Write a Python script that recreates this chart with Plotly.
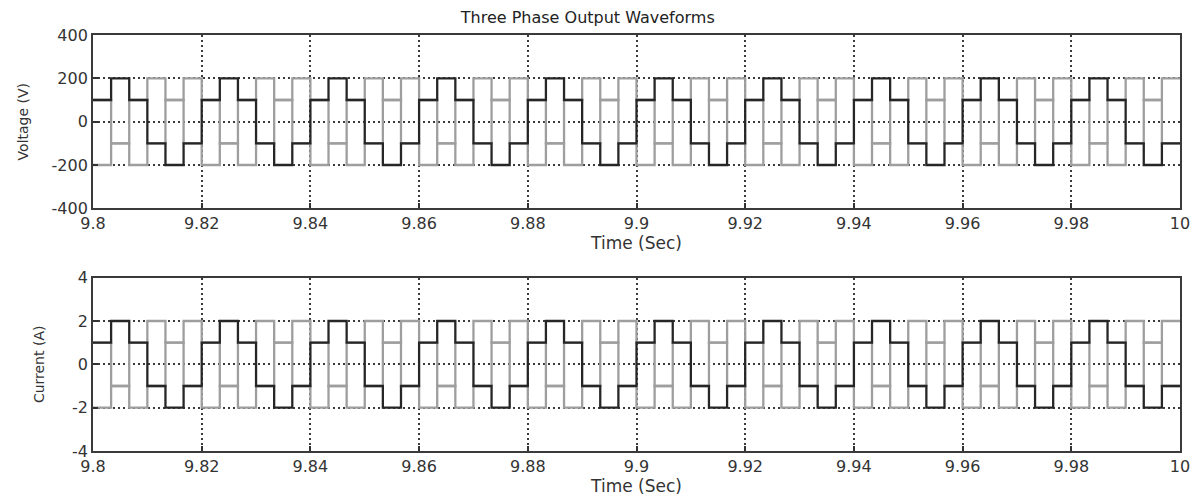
import plotly.graph_objects as go
from plotly.subplots import make_subplots

# Step start times (s): 60 steps of 1/300 s from 9.8 to 10
t_start = 9.8
t_end = 10.0
n_steps = 60
step_dt = (t_end - t_start) / n_steps
t_steps = [round(t_start + i * step_dt, 6) for i in range(n_steps)]

# Voltage phase levels (V), one value per step
va = [100, 200, 100, -100, -200, -100,
      100, 200, 100, -100, -200, -100,
      100, 200, 100, -100, -200, -100,
      100, 200, 100, -100, -200, -100,
      100, 200, 100, -100, -200, -100,
      100, 200, 100, -100, -200, -100,
      100, 200, 100, -100, -200, -100,
      100, 200, 100, -100, -200, -100,
      100, 200, 100, -100, -200, -100,
      100, 200, 100, -100, -200, -100]
vb = [-200, -100, 100, 200, 100, -100,
      -200, -100, 100, 200, 100, -100,
      -200, -100, 100, 200, 100, -100,
      -200, -100, 100, 200, 100, -100,
      -200, -100, 100, 200, 100, -100,
      -200, -100, 100, 200, 100, -100,
      -200, -100, 100, 200, 100, -100,
      -200, -100, 100, 200, 100, -100,
      -200, -100, 100, 200, 100, -100,
      -200, -100, 100, 200, 100, -100]
vc = [100, -100, -200, -100, 100, 200,
      100, -100, -200, -100, 100, 200,
      100, -100, -200, -100, 100, 200,
      100, -100, -200, -100, 100, 200,
      100, -100, -200, -100, 100, 200,
      100, -100, -200, -100, 100, 200,
      100, -100, -200, -100, 100, 200,
      100, -100, -200, -100, 100, 200,
      100, -100, -200, -100, 100, 200,
      100, -100, -200, -100, 100, 200]

# Current phase levels (A), one value per step
ia = [1, 2, 1, -1, -2, -1,
      1, 2, 1, -1, -2, -1,
      1, 2, 1, -1, -2, -1,
      1, 2, 1, -1, -2, -1,
      1, 2, 1, -1, -2, -1,
      1, 2, 1, -1, -2, -1,
      1, 2, 1, -1, -2, -1,
      1, 2, 1, -1, -2, -1,
      1, 2, 1, -1, -2, -1,
      1, 2, 1, -1, -2, -1]
ib = [-2, -1, 1, 2, 1, -1,
      -2, -1, 1, 2, 1, -1,
      -2, -1, 1, 2, 1, -1,
      -2, -1, 1, 2, 1, -1,
      -2, -1, 1, 2, 1, -1,
      -2, -1, 1, 2, 1, -1,
      -2, -1, 1, 2, 1, -1,
      -2, -1, 1, 2, 1, -1,
      -2, -1, 1, 2, 1, -1,
      -2, -1, 1, 2, 1, -1]
ic = [1, -1, -2, -1, 1, 2,
      1, -1, -2, -1, 1, 2,
      1, -1, -2, -1, 1, 2,
      1, -1, -2, -1, 1, 2,
      1, -1, -2, -1, 1, 2,
      1, -1, -2, -1, 1, 2,
      1, -1, -2, -1, 1, 2,
      1, -1, -2, -1, 1, 2,
      1, -1, -2, -1, 1, 2,
      1, -1, -2, -1, 1, 2]

x_tickvals = [9.8, 9.82, 9.84, 9.86, 9.88, 9.9, 9.92, 9.94, 9.96, 9.98, 10]
x_ticktext = ["9.8", "9.82", "9.84", "9.86", "9.88", "9.9", "9.92", "9.94", "9.96", "9.98", "10"]
v_ticks = [-400, -200, 0, 200, 400]
i_ticks = [-4, -2, 0, 2, 4]

BLACK = "#262626"
GRAY = "#9e9e9e"
FONT = "DejaVu Sans"
TXT = "#333333"

fig = make_subplots(rows=2, cols=1, vertical_spacing=0.1667)

tx = t_steps + [t_end]

def add_phase(vals, color, row):
    fig.add_trace(go.Scatter(x=tx, y=vals + [vals[-1]], mode="lines",
                             line=dict(color=color, width=2.3, shape="hv"),
                             showlegend=False, hoverinfo="skip"),
                  row=row, col=1)

add_phase(vb, GRAY, 1)
add_phase(vc, GRAY, 1)
add_phase(va, BLACK, 1)
add_phase(ib, GRAY, 2)
add_phase(ic, GRAY, 2)
add_phase(ia, BLACK, 2)

axis_common = dict(showline=True, linecolor="#3a3a3a", linewidth=1.8, mirror=True,
                   ticks="inside", ticklen=5, tickcolor="#333333", tickwidth=1.5,
                   showgrid=True, gridcolor="#3a3a3a", gridwidth=1.5, griddash="2px,3px",
                   zeroline=False, tickfont=dict(family=FONT, size=16, color=TXT))

for r in (1, 2):
    fig.update_xaxes(range=[t_start, t_end], tickvals=x_tickvals, ticktext=x_ticktext,
                     title=dict(text="Time (Sec)", font=dict(family=FONT, size=17, color=TXT), standoff=2),
                     row=r, col=1, **axis_common)

fig.update_yaxes(range=[-400, 400], tickvals=v_ticks, ticktext=[str(v) for v in v_ticks],
                 title=dict(text="Voltage (V)", font=dict(family=FONT, size=14, color=TXT), standoff=20),
                 row=1, col=1, **axis_common)
fig.update_yaxes(range=[-4, 4], tickvals=i_ticks, ticktext=[str(v) for v in i_ticks],
                 title=dict(text="Current (A)", font=dict(family=FONT, size=14, color=TXT), standoff=24),
                 row=2, col=1, **axis_common)

fig.update_layout(
    width=1202, height=502,
    margin=dict(l=93, r=16, t=35, b=47),
    paper_bgcolor="white", plot_bgcolor="white",
    title=dict(text="Three Phase Output Waveforms", x=0.489, xanchor="center",
               y=1 - 17 / 502, yanchor="middle",
               font=dict(family=FONT, size=16, color="#222222")),
)
fig.update_layout(yaxis=dict(domain=[0.5833, 1.0]), yaxis2=dict(domain=[0.0, 0.4167]))

fig.write_html("out.html")
